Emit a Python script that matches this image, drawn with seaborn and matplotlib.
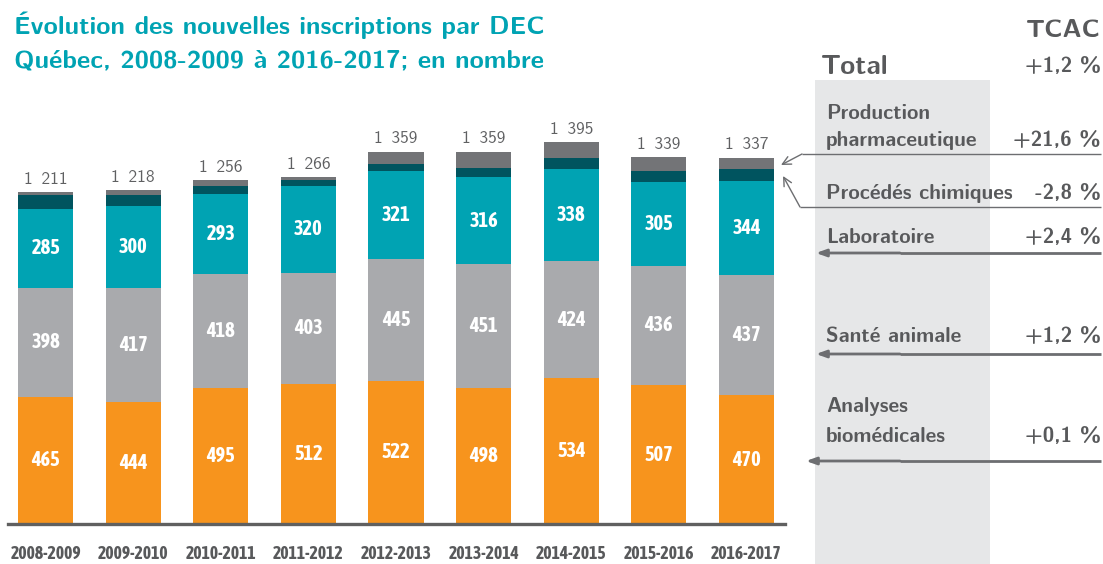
import os
import math
import matplotlib
matplotlib.use("Agg")
import matplotlib.pyplot as plt
from matplotlib import font_manager
from matplotlib.patches import Rectangle
import seaborn as sns
import pandas as pd

# --- Données : nouvelles inscriptions par DEC ---
annees = ["2008-2009", "2009-2010", "2010-2011", "2011-2012", "2012-2013",
          "2013-2014", "2014-2015", "2015-2016", "2016-2017"]
analyses = [465, 444, 495, 512, 522, 498, 534, 507, 470]
sante = [398, 417, 418, 403, 445, 451, 424, 436, 437]
labo = [285, 300, 293, 320, 321, 316, 338, 305, 344]
procedes = [54, 39, 27, 21, 27, 35, 41, 41, 43]
production = [9, 18, 23, 10, 44, 59, 58, 50, 43]
totaux = [1211, 1218, 1256, 1266, 1359, 1359, 1395, 1339, 1337]

programmes = ["Analyses biomédicales", "Santé animale", "Laboratoire",
              "Procédés chimiques", "Production pharmaceutique"]
tcac = ["+0,1 %", "+1,2 %", "+2,4 %", "-2,8 %", "+21,6 %"]
tcac_total = "+1,2 %"

couleurs = ["#F7941D", "#A9AAAD", "#00A3B3", "#00545F", "#737477"]
TEAL = "#00A3B3"
GRIS_TXT = "#58595B"
GRIS_FLECHE = "#6D6E71"

TITRE_1 = "Évolution des nouvelles inscriptions par DEC"
TITRE_2 = "Québec, 2008-2009 à 2016-2017; en nombre"

# Familles à empattements ou décoratives écartées : le graphique est en linéale grasse
SERIFS = ("serif", "slab", "cormorant", "garamond", "crimson", "baskerville",
          "merriweather", "playfair", "lora", "times", "georgia", "spectral",
          "alegreya", "bodoni", "didot", "caslon", "libre", "gelasio", "tinos",
          "cardo", "domine", "vollkorn", "bitter", "arvo", "rokkitt", "zilla")
LINEALES = ("sans", "condensed", "narrow", "roboto", "lato", "inter", "gothic",
            "grotesk", "grotesque", "barlow", "oswald", "archivo", "fira", "encode")


# --- Choix des polices : linéale grasse, proportions proches selon l'usage ---
def proportions(fname, texte):
    """Largeur du texte et hauteur de capitale en pixels pour un corps de 10 px (FreeType)."""
    f = font_manager.get_font(fname)
    f.set_size(10, 72)
    f.set_text(texte, 0.0)
    w = f.get_width_height()[0] / 64.0
    f.set_text("H", 0.0)
    h = f.get_width_height()[1] / 64.0
    return w, h


def polices_grasses():
    res = []
    for f in font_manager.fontManager.ttflist:
        nom = os.path.basename(f.fname).lower()
        if not nom.endswith((".ttf", ".otf")):
            continue
        if any(k in nom for k in ("italic", "oblique", "mono", "cjk", "symbol", "math", "emoji")):
            continue
        if "bold" not in nom:
            continue
        if not any(k in nom for k in LINEALES):
            continue
        if "sans" not in nom and any(k in nom for k in SERIFS):
            continue
        if "serif" in nom and "sans" not in nom:
            continue
        res.append(f.fname)
    return sorted(set(res))


def score(fname, cibles):
    try:
        s = 0.0
        for texte, ratio in cibles:
            w, h = proportions(fname, texte)
            s += abs(math.log((w / h) / ratio))
        nom = os.path.basename(fname).lower()
        if "semibold" in nom or "extrabold" in nom or "ultrabold" in nom:
            s += 0.08
        return s
    except Exception:
        return 99.0


def regulier(fname):
    if fname is None:
        return None
    base = os.path.basename(fname)
    for a, b in (("Bold", "Regular"), ("bold", "regular"), ("-Bold", ""), ("_Bold", ""), ("Bold", "")):
        if a in base:
            essai = os.path.join(os.path.dirname(fname), base.replace(a, b))
            if essai != fname and os.path.exists(essai):
                return essai
    return None


pool = polices_grasses()
cibles_large = [(TITRE_1, 536 / 18), ("Procédés chimiques", 182 / 15)]
cibles_etroit = [("2008-2009", 63 / 17), ("285", 29 / 14)]
f_large = min(pool, key=lambda p: score(p, cibles_large)) if pool else None
f_etroit = min(pool, key=lambda p: score(p, cibles_etroit)) if pool else None
f_large_reg = regulier(f_large)


def prop_de(fname, poids="bold"):
    if fname:
        return font_manager.FontProperties(fname=fname)
    return font_manager.FontProperties(family="Roboto", weight=poids)


fp_large = prop_de(f_large)
fp_etroit = prop_de(f_etroit)
fp_reg = prop_de(f_large_reg, poids="normal")


def fp(base, fname, texte, largeur_px, cap_px):
    """Corps de police conciliant largeur et hauteur de capitale visées (100 dpi)."""
    p = base.copy()
    if fname is None:
        p.set_size(cap_px * 0.9)
        return p
    w, h = proportions(fname, texte)
    s_w = 10 * largeur_px * 0.72 / max(w, 1e-6)
    s_h = 10 * cap_px * 0.72 / max(h, 1e-6)
    p.set_size(math.sqrt(s_w * s_h))
    return p


sns.set_theme(style="white")

W, H = 1103, 564
fig = plt.figure(figsize=(W / 100, H / 100), dpi=100)

# Zone de tracé des barres (en pixels : x 8–785, y 122–524)
ax = fig.add_axes([8 / W, (H - 524) / H, (785 - 8) / W, (524 - 122) / H])

df = pd.DataFrame({"annee": annees, "analyses": analyses, "sante": sante,
                   "labo": labo, "procedes": procedes, "production": production})
cols = ["analyses", "sante", "labo", "procedes", "production"]
cumul = df[cols].cumsum(axis=1)

# Empilement : on trace les cumuls du plus haut au plus bas
for col, c in zip(reversed(cols), reversed(couleurs)):
    sns.barplot(x=df["annee"], y=cumul[col], color=c, width=0.63,
                saturation=1, linewidth=0, ax=ax)

ax.set_xlim(-0.43, 8.44)
ax.set_ylim(0, 1467)
ax.set_xlabel("")
ax.set_ylabel("")
ax.set_yticks([])
for s in ["top", "right", "left"]:
    ax.spines[s].set_visible(False)
ax.spines["bottom"].set_color("#606060")
ax.spines["bottom"].set_linewidth(2.4)
ax.tick_params(axis="x", length=0, pad=15)
ax.set_xticks(range(len(annees)))
ax.set_xticklabels(annees, fontproperties=fp(fp_etroit, f_etroit, "2008-2009", 58, 15),
                   color=GRIS_TXT)

p_seg = fp(fp_etroit, f_etroit, "285", 29, 14)
p_tot = fp(fp_reg, f_large_reg, "1\u00a0211", 43, 14)

# Valeurs dans les segments et totaux au-dessus des barres
for i in range(len(annees)):
    bas = 0
    for serie in (analyses, sante, labo):
        v = serie[i]
        ax.text(i, bas + v / 2, f"{v}", ha="center", va="center", color="white",
                fontproperties=p_seg)
        bas += v
    t = totaux[i]
    ax.text(i, t + 30, f"{t:,}".replace(",", "\u00a0"), ha="center", va="baseline",
            color="#5F6062", fontproperties=p_tot, clip_on=True)

# Superposition en coordonnées pixels pour le panneau de droite
ov = fig.add_axes([0, 0, 1, 1], zorder=5)
ov.set_xlim(0, W)
ov.set_ylim(H, 0)
ov.axis("off")
ov.patch.set_alpha(0)
ov.add_patch(Rectangle((815, 80), 175, 490, facecolor="#E6E7E8", edgecolor="none", zorder=0))

# Titre
p_titre = fp(fp_large, f_large, TITRE_1, 536, 18)
ov.text(14, 34, TITRE_1, color=TEAL, fontproperties=p_titre, va="baseline", ha="left")
ov.text(14, 67, TITRE_2, color=TEAL, fontproperties=p_titre, va="baseline", ha="left")

ov.text(1101, 37, "TCAC", color=GRIS_TXT, fontproperties=fp(fp_large, f_large, "TCAC", 68, 20),
        ha="right", va="baseline")
ov.text(821, 74, "Total", color=GRIS_TXT, fontproperties=fp(fp_large, f_large, "Total", 62, 21),
        ha="left", va="baseline")
p_lab = fp(fp_large, f_large, "Procédés chimiques", 182, 15)
ov.text(1101, 72, tcac_total, color=GRIS_TXT, fontproperties=p_lab, ha="right", va="baseline")

# Étiquettes des programmes (lignes, lignes de base) et TCAC
etiquettes = [
    (["Analyses", "biomédicales"], [412, 442], 442),
    (["Santé animale"], [342], 342),
    (["Laboratoire"], [243], 243),
    (["Procédés chimiques"], [199], 199),
    (["Production", "pharmaceutique"], [119, 146], 146),
]
for (lignes, ys, yv), val in zip(etiquettes, tcac):
    for l, y in zip(lignes, ys):
        ov.text(826, y, l, color=GRIS_TXT, fontproperties=p_lab, ha="left", va="baseline")
    ov.text(1101, yv, val, color=GRIS_TXT, fontproperties=p_lab, ha="right", va="baseline")


# Flèches vers les segments de la dernière barre
def fleche(points, lw, tete):
    xs = [p[0] for p in points]
    ys = [p[1] for p in points]
    ov.plot(xs[:-1], ys[:-1], color=GRIS_FLECHE, lw=lw, solid_capstyle="butt")
    ov.annotate("", xy=points[-1], xytext=points[-2],
                arrowprops=dict(arrowstyle=tete, color=GRIS_FLECHE, lw=lw,
                                shrinkA=0, shrinkB=0))


fleche([(1101, 154), (802, 154), (781, 165)], 1.0, "->,head_length=0.5,head_width=0.25")
fleche([(1101, 207), (800, 207), (783, 176)], 1.0, "->,head_length=0.5,head_width=0.25")
fleche([(1101, 253), (900, 253), (816, 253)], 2.0, "-|>,head_length=0.5,head_width=0.18")
fleche([(1101, 354), (900, 354), (816, 354)], 2.0, "-|>,head_length=0.5,head_width=0.18")
fleche([(1101, 461), (900, 461), (806, 461)], 2.0, "-|>,head_length=0.5,head_width=0.18")

fig.savefig("out.png", dpi=100)
